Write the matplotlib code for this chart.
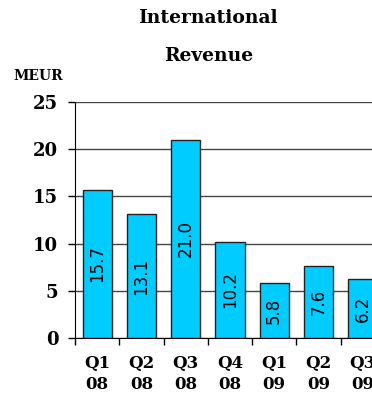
import matplotlib
matplotlib.use("Agg")
import matplotlib.pyplot as plt

# dados do gráfico
quarters = ["Q1\n08", "Q2\n08", "Q3\n08", "Q4\n08", "Q1\n09", "Q2\n09", "Q3\n09"]
revenue = [15.7, 13.1, 21.0, 10.2, 5.8, 7.6, 6.2]
y_ticks = [0, 5, 10, 15, 20, 25]

bar_color = "#00CCFF"
label_font = {"family": "DejaVu Serif", "weight": "heavy"}

fig = plt.figure(figsize=(3.72, 3.94), dpi=100)
ax = fig.add_axes([0.2016, 0.1421, 0.833, 0.599])

xs = [i + 0.5 for i in range(len(revenue))]
ax.bar(xs, revenue, width=0.66, color=bar_color, edgecolor="#222222",
       linewidth=1.0, zorder=3)

# rótulos dentro das barras
for x, v in zip(xs, revenue):
    ax.text(x, v / 2, f"{v:.1f}", rotation=90, ha="center", va="center",
            fontsize=12, family="DejaVu Sans", color="black", zorder=4)

ax.set_xlim(0, len(revenue))
ax.set_ylim(0, 25)
ax.set_yticks(y_ticks)
ax.set_yticklabels([str(t) for t in y_ticks], fontsize=13, **label_font)
ax.yaxis.grid(True, color="#444444", linewidth=1.0, zorder=0)

# ticks nas fronteiras, rótulos no centro
ax.set_xticks(range(len(revenue) + 1))
ax.set_xticklabels([])
ax.set_xticks(xs, minor=True)
ax.set_xticklabels(quarters, minor=True, fontsize=12, linespacing=1.35,
                   **label_font)
ax.tick_params(axis="x", which="minor", length=0, pad=12)
ax.tick_params(axis="x", which="major", length=5, width=1, direction="out")
ax.tick_params(axis="y", length=5, width=1, pad=7)

for s in ["top", "right"]:
    ax.spines[s].set_visible(False)
ax.spines["left"].set_color("black")
ax.spines["bottom"].set_color("black")

fig.text(0.56, 0.955, "International", ha="center", va="center",
         fontsize=13.5, **label_font)
fig.text(0.56, 0.858, "Revenue", ha="center", va="center",
         fontsize=13.5, **label_font)
fig.text(0.035, 0.808, "MEUR", ha="left", va="center", fontsize=10,
         **label_font)

fig.savefig("out.png", dpi=100)
